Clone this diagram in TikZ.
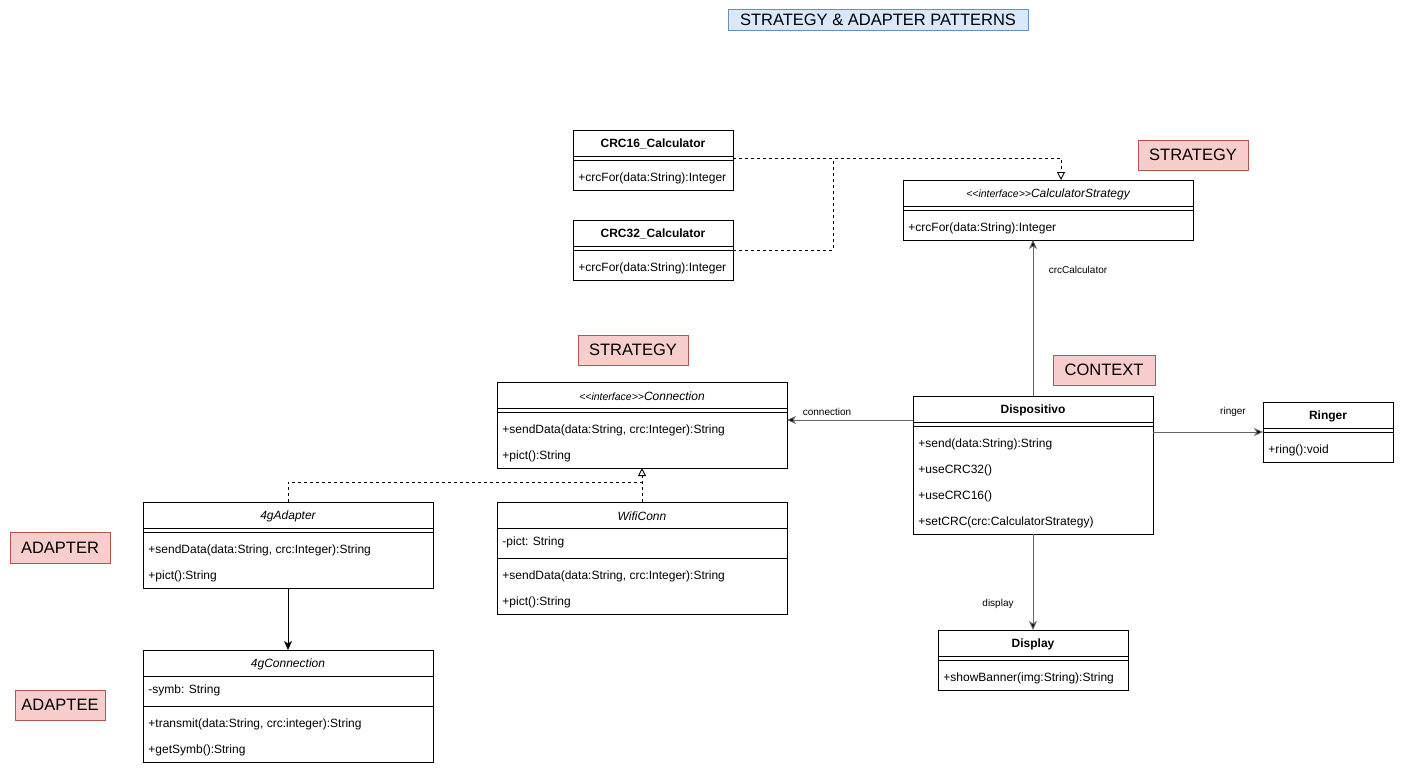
\documentclass[tikz,border=0pt]{standalone}
\usepackage{fontspec}
\setmainfont{Liberation Sans}
\usetikzlibrary{arrows.meta}
\definecolor{umlred}{RGB}{248,206,204}
\definecolor{umlredline}{RGB}{184,84,80}
\definecolor{umlblue}{RGB}{218,232,252}
\definecolor{umlblueline}{RGB}{108,142,191}
\definecolor{umlgray}{RGB}{102,102,102}
\newcommand{\memberfont}{\fontsize{12}{14}\selectfont}
\newcommand{\tagfont}{\fontsize{16.5}{19}\selectfont}
\newcommand{\edgefont}{\fontsize{10}{12}\selectfont}
\newcommand{\stereo}{{\fontsize{10.5}{12}\selectfont <\kern0pt<interface>\kern0pt>}}

\begin{document}
\begin{tikzpicture}[x=1pt, y=-1pt, line width=0.9pt,
  classbox/.style={draw, fill=white, anchor=north west, inner sep=0pt, outer sep=0pt},
  classname/.style={font=\memberfont\bfseries, inner sep=0pt, yshift=-1pt},
  abstractname/.style={font=\memberfont\itshape, inner sep=0pt, yshift=-1pt},
  member/.style={font=\memberfont, anchor=west, inner sep=0pt, yshift=-1pt},
  tagbox/.style={draw=umlredline, fill=umlred, font=\tagfont, inner sep=0pt, line width=0.7pt},
  edgelabel/.style={font=\edgefont, inner sep=0pt},
  assoc/.style={draw=umlgray, -{Stealth[length=9pt, width=8pt, inset=2.5pt, fill=black]}},
  realize/.style={dashed, -{Triangle[open, length=8pt, width=8pt, fill=white]}}]
\useasboundingbox (0,0) rectangle (1404,776);

% Title
\node[draw=umlblueline, fill=umlblue, font=\tagfont, minimum width=300pt, minimum height=21pt, inner sep=0pt, line width=0.7pt] (title) at (878,19.5) {STRATEGY \& ADAPTER PATTERNS};

% Pattern tags
\node[tagbox, minimum width=110pt, minimum height=30pt] (tagcalc) at (1193,155) {STRATEGY};
\node[tagbox, minimum width=110pt, minimum height=30pt] (tagconn) at (633,350) {STRATEGY};
\node[tagbox, minimum width=102pt, minimum height=30pt] (tagctx) at (1104,370) {CONTEXT};
\node[tagbox, minimum width=100pt, minimum height=31pt] (tagadapter) at (60,548) {ADAPTER};
\node[tagbox, minimum width=90pt, minimum height=30pt] (tagadaptee) at (60,705) {ADAPTEE};

% CRC16_Calculator
\node[classbox, minimum width=160pt, minimum height=60pt] (crc16) at (573,130) {};
\node[classname] (crc16name) at (653,143) {CRC16\_Calculator};
\draw (573,156) -- (733,156) (573,160) -- (733,160);
\node[member] (crc16op) at (578,177) {+crcFor(data:String):Integer};

% CRC32_Calculator
\node[classbox, minimum width=160pt, minimum height=60pt] (crc32) at (573,220) {};
\node[classname] (crc32name) at (653,233) {CRC32\_Calculator};
\draw (573,246) -- (733,246) (573,250) -- (733,250);
\node[member] (crc32op) at (578,267) {+crcFor(data:String):Integer};

% CalculatorStrategy
\node[classbox, minimum width=290pt, minimum height=60pt] (calc) at (903,180) {};
\node[abstractname] (calcname) at (1048,193) {\stereo CalculatorStrategy};
\draw (903,206) -- (1193,206) (903,210) -- (1193,210);
\node[member] (calcop) at (908,227) {+crcFor(data:String):Integer};

% Connection
\node[classbox, minimum width=290pt, minimum height=86pt] (conn) at (497,382) {};
\node[abstractname] (connname) at (642,395) {\stereo Connection};
\draw (497,408) -- (787,408) (497,412) -- (787,412);
\node[member] (connop1) at (502,429) {+sendData(data:String, crc:Integer):String};
\node[member] (connop2) at (502,455) {+pict():String};

% Dispositivo
\node[classbox, minimum width=240pt, minimum height=138pt] (dispo) at (913,396) {};
\node[classname] (disponame) at (1033,409) {Dispositivo};
\draw (913,422) -- (1153,422) (913,426) -- (1153,426);
\node[member] (dispoop1) at (918,443) {+send(data:String):String};
\node[member] (dispoop2) at (918,469) {+useCRC32()};
\node[member] (dispoop3) at (918,495) {+useCRC16()};
\node[member] (dispoop4) at (918,521) {+setCRC(crc:CalculatorStrategy)};

% Ringer
\node[classbox, minimum width=130pt, minimum height=60pt] (ringer) at (1263,402) {};
\node[classname] (ringername) at (1328,415) {Ringer};
\draw (1263,428) -- (1393,428) (1263,432) -- (1393,432);
\node[member] (ringerop) at (1268,449) {+ring():void};

% Display
\node[classbox, minimum width=190pt, minimum height=60pt] (display) at (938,630) {};
\node[classname] (displayname) at (1033,643) {Display};
\draw (938,656) -- (1128,656) (938,660) -- (1128,660);
\node[member] (displayop) at (943,677) {+showBanner(img:String):String};

% WifiConn
\node[classbox, minimum width=290pt, minimum height=112pt] (wifi) at (497,502) {};
\node[abstractname] (wifiname) at (642,515) {WifiConn};
\draw (497,528) -- (787,528) (497,558) -- (787,558);
\node[member] (wifiattr) at (502,541) {-pict: String};
\node[member] (wifiop1) at (502,575) {+sendData(data:String, crc:Integer):String};
\node[member] (wifiop2) at (502,601) {+pict():String};

% 4gAdapter
\node[classbox, minimum width=290pt, minimum height=86pt] (adapter) at (143,502) {};
\node[abstractname] (adaptername) at (288,515) {4gAdapter};
\draw (143,528) -- (433,528) (143,532) -- (433,532);
\node[member] (adapterop1) at (148,549) {+sendData(data:String, crc:Integer):String};
\node[member] (adapterop2) at (148,575) {+pict():String};

% 4gConnection
\node[classbox, minimum width=290pt, minimum height=112pt] (gconn) at (143,650) {};
\node[abstractname] (gconnname) at (288,663) {4gConnection};
\draw (143,676) -- (433,676) (143,706) -- (433,706);
\node[member] (gconnattr) at (148,689) {-symb: String};
\node[member] (gconnop1) at (148,723) {+transmit(data:String, crc:integer):String};
\node[member] (gconnop2) at (148,749) {+getSymb():String};

% Realizations
\draw[realize] ([yshift=2pt]crc16.east) -| ([xshift=13pt]calc.north);
\draw[dashed] (crc32.east) -| ([xshift=100pt, yshift=2pt]crc16.east);
\draw[realize] (wifi.north) -- (conn.south);
\draw[dashed] (adapter.north) |- ([yshift=20pt]wifi.north);

% Associations
\coordinate (connpt) at ([yshift=-24pt]dispo.north west);
\draw[assoc] (dispo.north) -- (dispo.north |- calc.south);
\draw[assoc] (connpt) -- (connpt -| conn.east);
\draw[assoc] (dispo.east |- ringer.west) -- (ringer.west);
\draw[assoc] (dispo.south) -- (display.north);
\draw[assoc, draw=black] (adapter.south) -- (gconn.north);

% Association labels
\node[edgelabel] (lblcalc) at (1078,270) {crcCalculator};
\node[edgelabel] (lblconn) at (827,412) {connection};
\node[edgelabel] (lblringer) at (1233,412) {ringer};
\node[edgelabel] (lbldisplay) at (998,604) {display};
\end{tikzpicture}
\end{document}
